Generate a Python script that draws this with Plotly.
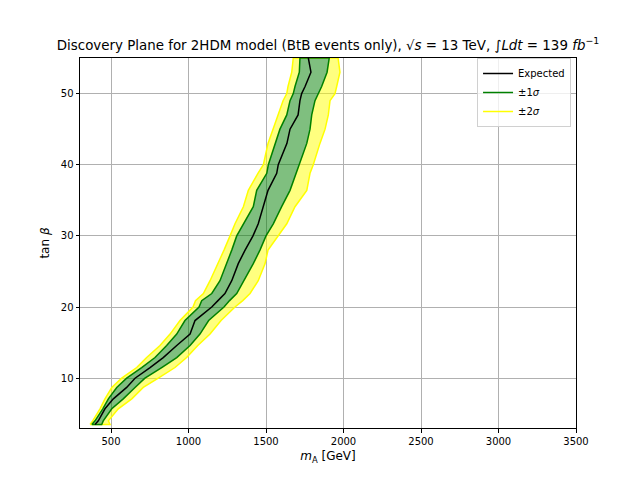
import plotly.graph_objs as go

# tan(beta) levels at which the band edges were read
tan_beta = [3.5, 4, 5.7, 7.1, 8.7, 10, 11.5, 12.9, 14.6, 16.2, 18.1, 20, 20.9, 21.9, 23.7, 26.1,
            28, 30, 31.7, 34.1, 36.4, 38.8, 40, 43, 45, 47, 49, 50, 51, 53, 55]

# m_A [GeV] of each contour at those levels
expected = [397, 418, 461, 515, 601, 655, 752, 837, 924, 1010, 1042, 1150, 1190, 1235, 1279, 1321,
            1365, 1416, 1450, 1483, 1513, 1569, 1579, 1635, 1655, 1707, 1719, 1730, 1752, 1790, 1773]
sig1_lo = [376, 397, 447, 483, 537, 601, 698, 784, 859, 924, 977, 1068, 1085, 1150, 1203, 1247,
           1279, 1311, 1354, 1418, 1440, 1505, 1515, 1558, 1590, 1634, 1655, 1676, 1687, 1715, 1719]
sig1_hi = [440, 450, 505, 579, 655, 719, 827, 924, 1010, 1074, 1130, 1229, 1265, 1311, 1354, 1418,
           1461, 1500, 1547, 1601, 1655, 1694, 1715, 1763, 1784, 1795, 1816, 1837, 1859, 1894, 1908]
sig2_lo = [365, 382, 429, 461, 505, 569, 666, 730, 816, 881, 945, 1029, 1045, 1096, 1139, 1192,
           1229, 1268, 1300, 1354, 1386, 1448, 1483, 1513, 1545, 1577, 1610, 1634, 1642, 1666, 1676]
sig2_hi = [494, 483, 547, 634, 708, 805, 913, 988, 1060, 1139, 1210, 1300, 1350, 1397, 1450, 1494,
           1513, 1577, 1634, 1687, 1763, 1784, 1805, 1848, 1881, 1902, 1913, 1945, 1956, 1977, 1965]

x_ticks = [500, 1000, 1500, 2000, 2500, 3000, 3500]
y_ticks = [10, 20, 30, 40, 50]

font = 'DejaVu Sans'
yellow_fill = 'rgba(255,255,0,0.5)'
green_fill = 'rgba(0,128,0,0.5)'

back = tan_beta[::-1]
fig = go.Figure()

# filled regions (like contourf)
fig.add_trace(go.Scatter(x=sig2_lo + sig1_lo[::-1], y=tan_beta + back, fill='toself',
                         fillcolor=yellow_fill, line=dict(width=0), mode='lines',
                         showlegend=False, hoverinfo='skip'))
fig.add_trace(go.Scatter(x=sig1_hi + sig2_hi[::-1], y=tan_beta + back, fill='toself',
                         fillcolor=yellow_fill, line=dict(width=0), mode='lines',
                         showlegend=False, hoverinfo='skip'))
fig.add_trace(go.Scatter(x=sig1_lo + sig1_hi[::-1], y=tan_beta + back, fill='toself',
                         fillcolor=green_fill, line=dict(width=0), mode='lines',
                         showlegend=False, hoverinfo='skip'))

# contour lines
fig.add_trace(go.Scatter(x=sig2_lo + sig2_hi[::-1] + sig2_lo[:1], y=tan_beta + back + tan_beta[:1],
                         mode='lines', line=dict(color='#ffff00', width=1.5), showlegend=False))
fig.add_trace(go.Scatter(x=sig1_lo + sig1_hi[::-1] + sig1_lo[:1], y=tan_beta + back + tan_beta[:1],
                         mode='lines', line=dict(color='green', width=1.5), showlegend=False))
fig.add_trace(go.Scatter(x=expected, y=tan_beta, mode='lines',
                         line=dict(color='black', width=1.5), showlegend=False))

# legend entries
for name, col in [('Expected', 'black'), ('±1<i>σ</i>', 'green'), ('±2<i>σ</i>', '#ffff00')]:
    fig.add_trace(go.Scatter(x=[None], y=[None], mode='lines', name=name,
                             line=dict(color=col, width=1.5)))

# page body adds 8px on the left and top, margins are shifted for that
fig.update_layout(
    width=640, height=480,
    margin=dict(l=72, r=72, t=50, b=60),
    plot_bgcolor='white', paper_bgcolor='white',
    font=dict(family=font, size=10, color='black'),
    title=dict(text='Discovery Plane for 2HDM model (BtB events only), √<i>s</i> = 13 TeV, '
                    '∫<i>Ldt</i> = 139 <i>fb</i><sup>−1</sup>',
               x=0.5, xref='paper', xanchor='center',
               y=1 - 37 / 480, yref='container', yanchor='middle',
               font=dict(family=font, size=13.4, color='black')),
    legend=dict(x=0.99, y=1.0, xanchor='right', yanchor='top',
                bgcolor='rgba(255,255,255,0.8)', bordercolor='#d0d0d0', borderwidth=1,
                font=dict(family=font, size=10), tracegroupgap=0, itemwidth=30),
)
fig.update_xaxes(range=[300, 3500], tickvals=x_ticks, showgrid=True, gridcolor='#b0b0b0',
                 gridwidth=0.8, showline=True, linecolor='black', linewidth=1, mirror=True,
                 ticks='outside', ticklen=3.5, tickcolor='black', zeroline=False,
                 title=dict(text='<i>m</i><sub>A</sub> [GeV]', standoff=6))
fig.update_yaxes(range=[3, 55], tickvals=y_ticks, showgrid=True, gridcolor='#b0b0b0',
                 gridwidth=0.8, showline=True, linecolor='black', linewidth=1, mirror=True,
                 ticks='outside', ticklen=3.5, tickcolor='black', zeroline=False,
                 title=dict(text='tan <i>β</i>', standoff=8))

fig.write_html("out.html")
